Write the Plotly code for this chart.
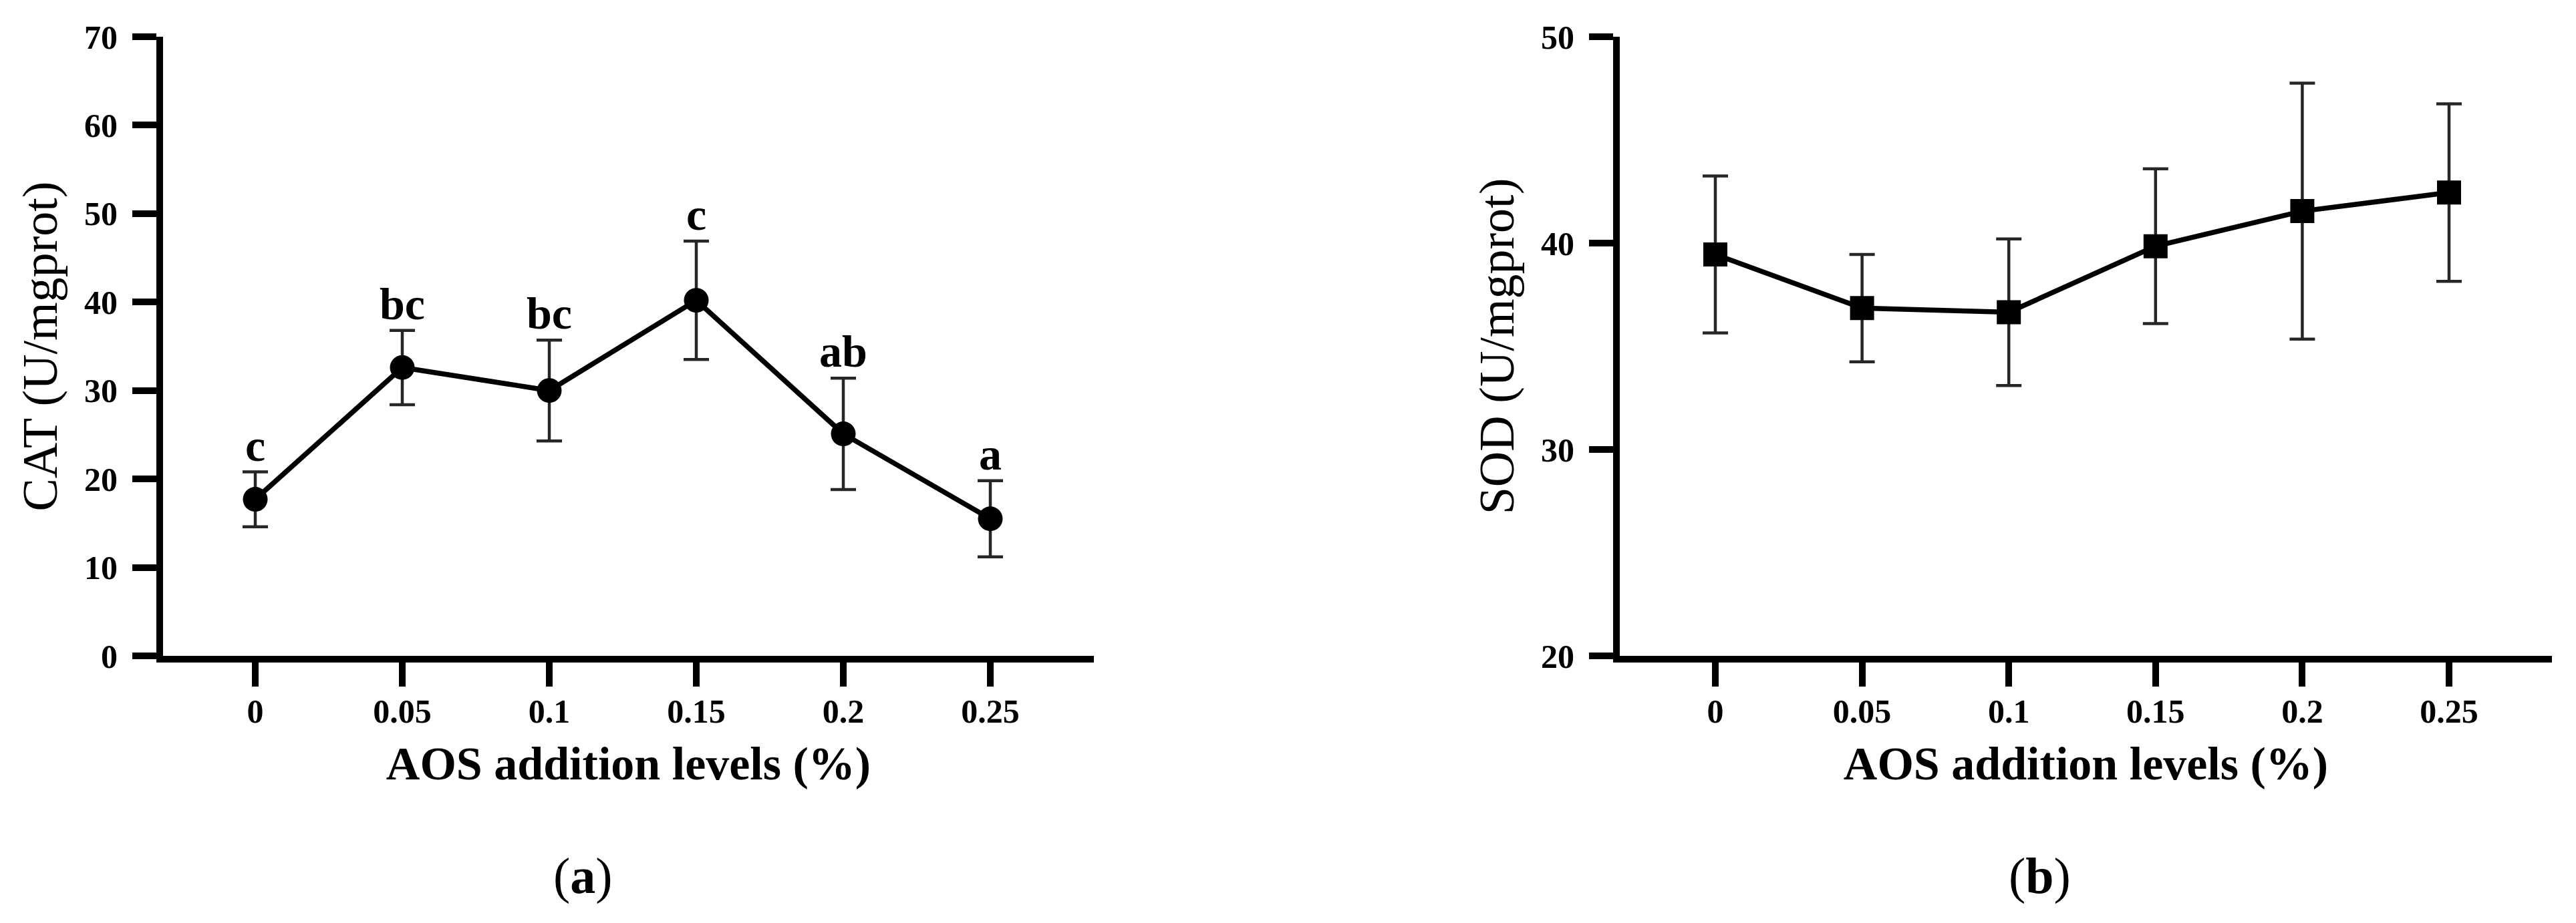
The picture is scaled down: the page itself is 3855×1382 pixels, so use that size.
import plotly.graph_objects as go

# ---- data ----
levels = [0, 0.05, 0.1, 0.15, 0.2, 0.25]
level_labels = ["0", "0.05", "0.1", "0.15", "0.2", "0.25"]

cat_mean = [17.7, 32.6, 30.0, 40.2, 25.1, 15.5]
cat_sd = [3.1, 4.2, 5.7, 6.7, 6.3, 4.3]
cat_letters = ["c", "bc", "bc", "c", "ab", "a"]

sod_mean = [39.45, 36.85, 36.65, 39.85, 41.55, 42.45]
sod_sd = [3.8, 2.6, 3.55, 3.75, 6.2, 4.3]

cat_ticks = [0, 10, 20, 30, 40, 50, 60, 70]
sod_ticks = [20, 30, 40, 50]

W, H = 3855, 1382
OFF = 8  # page body margin: figure is drawn 8 px right/down in the window
SERIF = "Liberation Serif, Times New Roman, serif"


def px(v):
    """window x pixel -> paper fraction"""
    return (v - OFF) / W


def py(v):
    """window y pixel -> paper fraction (from bottom)"""
    return (H - (v - OFF)) / H


fig = go.Figure()

err_style = dict(type="data", visible=True, color="#262626", thickness=4.5, width=19)

fig.add_trace(go.Scatter(
    x=levels, y=cat_mean, mode="lines+markers",
    line=dict(color="black", width=7.5),
    marker=dict(symbol="circle", size=37, color="black"),
    error_y=dict(array=cat_sd, **err_style),
    xaxis="x", yaxis="y", showlegend=False,
))

fig.add_trace(go.Scatter(
    x=levels, y=sod_mean, mode="lines+markers",
    line=dict(color="black", width=7.5),
    marker=dict(symbol="square", size=36, color="black"),
    error_y=dict(array=sod_sd, **err_style),
    xaxis="x2", yaxis="y2", showlegend=False,
))

# significance letters above the error bars
for xv, m, s, t in zip(levels, cat_mean, cat_sd, cat_letters):
    fig.add_annotation(
        x=xv, y=m + s, xref="x", yref="y", text=t, showarrow=False,
        yanchor="bottom", xanchor="center", yshift=0,
        font=dict(family=SERIF, size=68, color="black", weight="bold"),
    )

# panel labels
for xp, lab in [(px(872), "a"), (px(3052), "b")]:
    fig.add_annotation(
        x=xp, y=py(1311), xref="paper", yref="paper",
        text="(<b>" + lab + "</b>)", showarrow=False,
        xanchor="center", yanchor="middle",
        font=dict(family=SERIF, size=76, color="black"),
    )

tick_font = dict(family=SERIF, size=50, color="black", weight="bold")
xtitle_font = dict(family=SERIF, size=70, color="black", weight="bold")
ytitle_font = dict(family=SERIF, size=74, color="black")

ydom = [py(982), py(55)]

common_x = dict(
    showline=True, linecolor="black", linewidth=10,
    ticks="outside", ticklen=36, tickwidth=10, tickcolor="black",
    tickvals=levels, ticktext=level_labels, tickfont=tick_font,
    showgrid=False, zeroline=False, ticklabelstandoff=-6, automargin=False,
)
common_y = dict(
    showline=True, linecolor="black", linewidth=10,
    ticks="outside", ticklen=36, tickwidth=10, tickcolor="black",
    tickfont=tick_font, showgrid=False, zeroline=False,
    domain=ydom, ticklabelstandoff=12, automargin=False,
)

L1, R1, Z1, S1 = 244, 1637, 382, 4400
L2, R2, Z2, S2 = 2424, 3819, 2567, 4392

fig.update_layout(
    width=W, height=H,
    margin=dict(l=0, r=0, t=0, b=0, autoexpand=False),
    paper_bgcolor="white", plot_bgcolor="white",
    showlegend=False,
    xaxis=dict(
        domain=[px(L1), px(R1)], range=[(L1 - Z1) / S1, (R1 - Z1) / S1],
        anchor="y",
        title=dict(text="AOS addition levels (%)", font=xtitle_font, standoff=30),
        **common_x,
    ),
    yaxis=dict(
        anchor="x", range=[0, 70], tickvals=cat_ticks,
        title=dict(text="CAT (U/mgprot)", font=ytitle_font, standoff=20),
        **common_y,
    ),
    xaxis2=dict(
        domain=[px(L2), px(R2)], range=[(L2 - Z2) / S2, (R2 - Z2) / S2],
        anchor="y2",
        title=dict(text="AOS addition levels (%)", font=xtitle_font, standoff=30),
        **common_x,
    ),
    yaxis2=dict(
        anchor="x2", range=[20, 50], tickvals=sod_ticks,
        title=dict(text="SOD (U/mgprot)", font=ytitle_font, standoff=20),
        **common_y,
    ),
)

fig.write_html("out.html")
